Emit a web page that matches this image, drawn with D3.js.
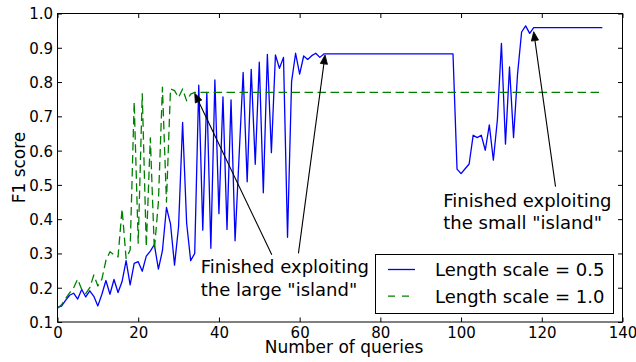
<!DOCTYPE html>
<html>
<head>
<meta charset="utf-8">
<script src="https://cdn.jsdelivr.net/npm/d3@7"></script>
<style>
  html, body { margin: 0; padding: 0; background: #fff; }
  svg { display: block; font-family: "DejaVu Sans", sans-serif; }
</style>
</head>
<body>
<svg id="chart" width="636" height="362"></svg>
<script>
// ---------- data ----------
const queries = d3.range(0, 136);

const seriesNames = ["Length scale = 0.5", "Length scale = 1.0"];

const f1LengthScale05 = [
  0.143, 0.146, 0.163, 0.178, 0.184, 0.167, 0.195, 0.173, 0.191, 0.175,
  0.147, 0.181, 0.221, 0.181, 0.224, 0.186, 0.218, 0.279, 0.208, 0.271,
  0.276, 0.248, 0.292, 0.307, 0.326, 0.254, 0.308, 0.434, 0.386, 0.266,
  0.378, 0.682, 0.388, 0.279, 0.300, 0.791, 0.368, 0.770, 0.315, 0.806,
  0.416, 0.757, 0.370, 0.748, 0.337, 0.585, 0.828, 0.509, 0.837, 0.560,
  0.858, 0.477, 0.881, 0.594, 0.879, 0.840, 0.872, 0.347, 0.801, 0.884,
  0.823, 0.876, 0.866, 0.877, 0.884, 0.872, 0.882, 0.882, 0.882, 0.882,
  0.882, 0.882, 0.882, 0.882, 0.882, 0.882, 0.882, 0.882, 0.882, 0.882,
  0.882, 0.882, 0.882, 0.882, 0.882, 0.882, 0.882, 0.882, 0.882, 0.882,
  0.882, 0.882, 0.882, 0.882, 0.882, 0.882, 0.882, 0.882, 0.882, 0.546,
  0.533, 0.547, 0.561, 0.645, 0.638, 0.645, 0.601, 0.675, 0.572, 0.690,
  0.913, 0.619, 0.844, 0.638, 0.824, 0.946, 0.964, 0.942, 0.959, 0.959,
  0.959, 0.959, 0.959, 0.959, 0.959, 0.959, 0.959, 0.959, 0.959, 0.959,
  0.959, 0.959, 0.959, 0.959, 0.959, 0.959
];

const f1LengthScale10 = [
  0.140, 0.150, 0.168, 0.185, 0.200, 0.225, 0.195, 0.183, 0.200, 0.237,
  0.205, 0.225, 0.280, 0.305, 0.296, 0.290, 0.430, 0.285, 0.310, 0.742,
  0.330, 0.766, 0.320, 0.637, 0.310, 0.450, 0.785, 0.450, 0.780, 0.775,
  0.755, 0.780, 0.745, 0.765, 0.770, 0.770, 0.770, 0.770, 0.770, 0.770,
  0.770, 0.770, 0.770, 0.770, 0.770, 0.770, 0.770, 0.770, 0.770, 0.770,
  0.770, 0.770, 0.770, 0.770, 0.770, 0.770, 0.770, 0.770, 0.770, 0.770,
  0.770, 0.770, 0.770, 0.770, 0.770, 0.770, 0.770, 0.770, 0.770, 0.770,
  0.770, 0.770, 0.770, 0.770, 0.770, 0.770, 0.770, 0.770, 0.770, 0.770,
  0.770, 0.770, 0.770, 0.770, 0.770, 0.770, 0.770, 0.770, 0.770, 0.770,
  0.770, 0.770, 0.770, 0.770, 0.770, 0.770, 0.770, 0.770, 0.770, 0.770,
  0.770, 0.770, 0.770, 0.770, 0.770, 0.770, 0.770, 0.770, 0.770, 0.770,
  0.770, 0.770, 0.770, 0.770, 0.770, 0.770, 0.770, 0.770, 0.770, 0.770,
  0.770, 0.770, 0.770, 0.770, 0.770, 0.770, 0.770, 0.770, 0.770, 0.770,
  0.770, 0.770, 0.770, 0.770, 0.770, 0.770
];

const xTicks = [0, 20, 40, 60, 80, 100, 120, 140];
const yTicks = [0.1, 0.2, 0.3, 0.4, 0.5, 0.6, 0.7, 0.8, 0.9, 1.0];
const xLabel = "Number of queries";
const yLabel = "F1 score";

// annotations (data coordinates)
const annLabels = [
  ["Finished exploiting", "the large \"island\""],
  ["Finished exploiting", "the small \"island\""]
];
const annTextAt = [[35.5, 0.242], [95.6, 0.436]];
const arrowTips = [[34.0, 0.767], [66.3, 0.879], [118.0, 0.947]];
const arrowTails = [[53.1, 0.296], [59.7, 0.300], [123.4, 0.495]];

// ---------- chart ----------
const svg = d3.select("#chart");
const L = 57.5, R = 622.5, T = 13.5, B = 322;

const x = d3.scaleLinear().domain([0, 140]).range([L, R]);
const y = d3.scaleLinear().domain([0.1, 1.0]).range([B, T]);

svg.append("rect").attr("width", 636).attr("height", 362).attr("fill", "#fff");

const colors = ["#0000ff", "#008000"];
const dashes = [null, "8.5,4.5"];
const series = [f1LengthScale05, f1LengthScale10];

const line = d3.line().x((d, i) => x(queries[i])).y(d => y(d));

series.forEach((s, k) => {
  svg.append("path")
    .datum(s)
    .attr("d", line)
    .attr("fill", "none")
    .attr("stroke", colors[k])
    .attr("stroke-width", 1.3)
    .attr("stroke-linejoin", "round")
    .attr("stroke-dasharray", dashes[k]);
});

// frame
svg.append("rect")
  .attr("x", L).attr("y", T)
  .attr("width", R - L).attr("height", B - T)
  .attr("fill", "none").attr("stroke", "#000").attr("stroke-width", 1);

// ticks (inside, on all four sides)
const tk = 4.5;
const axB = svg.append("g").attr("transform", `translate(0,${B})`)
  .call(d3.axisBottom(x).tickValues(xTicks).tickSizeInner(-tk).tickSizeOuter(0)
        .tickPadding(6).tickFormat(d3.format("d")));
const axT = svg.append("g").attr("transform", `translate(0,${T})`)
  .call(d3.axisTop(x).tickValues(xTicks).tickSizeInner(-tk).tickSizeOuter(0).tickFormat(""));
const axLft = svg.append("g").attr("transform", `translate(${L},0)`)
  .call(d3.axisLeft(y).tickValues(yTicks).tickSizeInner(-tk).tickSizeOuter(0)
        .tickPadding(4).tickFormat(d3.format(".1f")));
const axRt = svg.append("g").attr("transform", `translate(${R},0)`)
  .call(d3.axisRight(y).tickValues(yTicks).tickSizeInner(-tk).tickSizeOuter(0).tickFormat(""));

[axB, axT, axLft, axRt].forEach(g => {
  g.select(".domain").remove();
  g.selectAll(".tick line").attr("stroke", "#000").attr("stroke-width", 1);
  g.selectAll("text").attr("fill", "#000")
    .style("font-family", "'DejaVu Sans', sans-serif").style("font-size", "15px");
});
axB.selectAll(".tick text").attr("y", null).attr("dy", null)
  .attr("transform", null).attr("y", 16);
axLft.selectAll(".tick text").attr("x", -4.5).attr("dy", "0.36em");

// axis labels
svg.append("text")
  .attr("x", 344).attr("y", 353)
  .attr("text-anchor", "middle")
  .style("font-size", "17px").attr("fill", "#000")
  .text(xLabel);
svg.append("text")
  .attr("transform", "translate(25,167.5) rotate(-90)")
  .attr("text-anchor", "middle")
  .style("font-size", "17px").attr("fill", "#000")
  .text(yLabel);

// annotations
const ann = svg.append("g");
annLabels.forEach((lines, k) => {
  const t = ann.append("text")
    .attr("x", x(annTextAt[k][0])).attr("y", y(annTextAt[k][1]))
    .style("font-size", "18px").attr("fill", "#000");
  lines.forEach((ln, j) => {
    t.append("tspan").attr("x", x(annTextAt[k][0])).attr("dy", j === 0 ? 0 : 22.2).text(ln);
  });
});
arrowTips.forEach((tip, k) => {
  const x1 = x(arrowTails[k][0]), y1 = y(arrowTails[k][1]);
  const x2 = x(tip[0]), y2 = y(tip[1]);
  const ang = Math.atan2(y2 - y1, x2 - x1);
  const hl = 9, hw = 3.6;
  const bx = x2 - hl * Math.cos(ang), by = y2 - hl * Math.sin(ang);
  ann.append("line")
    .attr("x1", x1).attr("y1", y1).attr("x2", bx).attr("y2", by)
    .attr("stroke", "#000").attr("stroke-width", 1.1);
  const px = -Math.sin(ang), py = Math.cos(ang);
  ann.append("path")
    .attr("d", `M${x2},${y2}L${bx + hw * px},${by + hw * py}L${bx - hw * px},${by - hw * py}Z`)
    .attr("fill", "#000").attr("stroke", "#000").attr("stroke-width", 0.8)
    .attr("stroke-linejoin", "miter");
});

// legend
const lg = svg.append("g");
lg.append("rect")
  .attr("x", 375.5).attr("y", 254.5).attr("width", 238).attr("height", 59)
  .attr("fill", "#fff").attr("stroke", "#000").attr("stroke-width", 1);
seriesNames.forEach((name, k) => {
  const yy = 269.5 + k * 26.7;
  lg.append("line")
    .attr("x1", 388).attr("x2", 415).attr("y1", yy).attr("y2", yy)
    .attr("stroke", colors[k]).attr("stroke-width", 1.3)
    .attr("stroke-dasharray", k === 1 ? "7,7" : null);
  lg.append("text")
    .attr("x", 435).attr("y", yy + 6.7)
    .style("font-size", "18px").attr("fill", "#000")
    .text(name);
});
</script>
</body>
</html>
